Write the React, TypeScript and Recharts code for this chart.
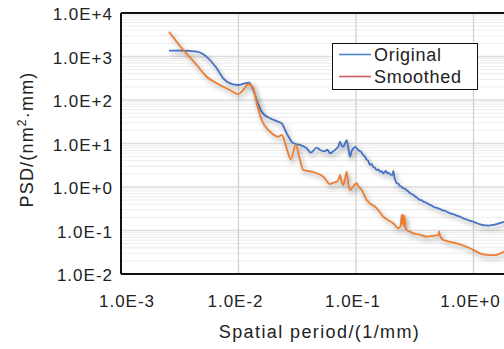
import React from "react";
import { LineChart, Line, XAxis, YAxis, ReferenceLine, Legend, Label } from "recharts";

// ---- data ----
const originalX = [
  0.00256, 0.00339, 0.00441, 0.00502, 0.00572, 0.00652, 0.00742, 0.00847, 0.00996, 0.01136,
  0.01229, 0.01337, 0.01429, 0.01575, 0.01854, 0.02182, 0.02332, 0.02571, 0.02927, 0.03338,
  0.03806, 0.04116, 0.04629, 0.04939, 0.054, 0.057, 0.06007, 0.064, 0.0685, 0.071,
  0.07309, 0.0755, 0.07796, 0.0805, 0.08334, 0.086, 0.08892, 0.0915, 0.09484, 0.099,
  0.1046, 0.11, 0.1153, 0.119, 0.123, 0.127, 0.1315, 0.136, 0.14, 0.145,
  0.15, 0.155, 0.16, 0.165, 0.1708, 0.175, 0.18, 0.185, 0.19, 0.196,
  0.2013, 0.205, 0.208, 0.212, 0.215, 0.222, 0.228, 0.235, 0.243, 0.2527,
  0.26, 0.27, 0.28, 0.2881, 0.3, 0.315, 0.33, 0.3505, 0.36, 0.375,
  0.39, 0.4, 0.425, 0.44, 0.455, 0.49, 0.5, 0.52, 0.555, 0.57,
  0.5916, 0.63, 0.67, 0.69, 0.72, 0.7674, 0.82, 0.87, 0.93, 0.9954,
  1.05, 1.1, 1.16, 1.211, 1.28, 1.35, 1.41, 1.474, 1.56, 1.65, 1.73, 1.818, 2.2,
];
const originalY = [
  1359, 1359, 1289, 1124, 831, 535, 315, 242, 221, 242,
  250, 170, 100, 53.8, 37.9, 31.7, 29.1, 17.1, 10.1, 9.24,
  7.76, 6.15, 8.0, 7.09, 6.6, 7.2, 5.95, 6.6, 7.76, 8.6,
  11.0, 9.0, 8.44, 10.0, 12.0, 8.0, 4.97, 6.5, 7.76, 8.3,
  7.09, 6.5, 5.44, 5.0, 4.3, 4.0, 3.21, 3.4, 2.9, 2.75,
  2.46, 2.55, 2.25, 2.3, 2.07, 2.2, 2.35, 2.05, 2.1, 1.95,
  1.89, 1.95, 2.35, 1.7, 1.5, 1.22, 1.2, 1.08, 1.02, 0.933,
  0.92, 0.84, 0.78, 0.716, 0.69, 0.62, 0.57, 0.502, 0.5, 0.46,
  0.445, 0.43, 0.39, 0.375, 0.352, 0.33, 0.325, 0.31, 0.285, 0.285,
  0.27, 0.25, 0.238, 0.232, 0.22, 0.2075, 0.19, 0.18, 0.168, 0.159,
  0.15, 0.143, 0.137, 0.1337, 0.131, 0.13, 0.133, 0.1337, 0.14, 0.145, 0.152, 0.159, 0.18,
];

const smoothedX = [
  0.00256, 0.00339, 0.00441, 0.00536, 0.00652, 0.00847, 0.00996, 0.01099, 0.01212, 0.01337,
  0.01429, 0.01575, 0.01854, 0.02182, 0.02332, 0.02571, 0.02781, 0.03067, 0.03338, 0.0356,
  0.04331, 0.05268, 0.06007, 0.064, 0.0685, 0.071, 0.07309, 0.0755, 0.07796, 0.0805,
  0.08334, 0.086, 0.08892, 0.095, 0.1014, 0.106, 0.1118, 0.1233, 0.135, 0.15,
  0.16, 0.1708, 0.19, 0.2077, 0.2291, 0.24, 0.2449, 0.248, 0.251, 0.255,
  0.259, 0.263, 0.2701, 0.2875, 0.3075, 0.33, 0.35, 0.375, 0.3997, 0.425,
  0.45, 0.475, 0.5016, 0.51, 0.52, 0.5534, 0.59, 0.63, 0.67, 0.7194,
  0.77, 0.82, 0.875, 0.9333, 1.03, 1.135, 1.25, 1.381, 1.5, 1.6, 1.7, 1.818, 2.2,
];
const smoothedY = [
  3715, 1410, 638, 343, 242, 170, 137, 170, 233, 186,
  84, 34.7, 18.7, 14.3, 15.7, 7.76, 4.33, 9.24, 4.18, 2.46,
  2.21, 1.73, 1.17, 1.25, 1.32, 1.5, 1.89, 1.3, 1.11, 1.5,
  2.25, 1.2, 0.853, 1.05, 1.22, 1.0, 0.853, 0.502, 0.4, 0.324,
  0.26, 0.2075, 0.17, 0.1465, 0.1124, 0.13, 0.227, 0.14, 0.23, 0.13,
  0.22, 0.12, 0.1026, 0.094, 0.0863, 0.083, 0.08, 0.075, 0.072, 0.074,
  0.075, 0.077, 0.0788, 0.095, 0.075, 0.0605, 0.058, 0.055, 0.053, 0.0508,
  0.048, 0.045, 0.042, 0.039, 0.034, 0.0299, 0.028, 0.0273, 0.0272, 0.028, 0.03, 0.0326, 0.036,
];

const seriesNames = ["Original", "Smoothed"];
const lineColors = ["#4472C4", "#ED7D31"];
const legendColors = ["#4A86C8", "#D05F5F"];

const xTicks = [0.001, 0.01, 0.1, 1, 10];
const yTicks = [0.01, 0.1, 1, 10, 100, 1000, 10000];
const yMinorFactors = [2, 3, 4, 5, 6, 7, 8, 9];

const originalData = originalX.map((x, i) => ({ x, y: originalY[i] }));
const smoothedData = smoothedX.map((x, i) => ({ x, y: smoothedY[i] }));
const yMinor: number[] = [];
yTicks.slice(0, -1).forEach((d) => yMinorFactors.forEach((k) => yMinor.push(d * k)));

const FONT = "'Liberation Sans', Arial, sans-serif";
const fmt = (v: number) => v.toExponential(1).toUpperCase();

const XTick = (props: any) => {
  const { x, y, payload } = props;
  const dx = payload.value === 0.001 ? 6 : -3;
  return (
    <text x={x + dx} y={y + 33} textAnchor="middle" fontSize={17} letterSpacing={1} fill="#222" fontFamily={FONT}>
      {fmt(payload.value)}
    </text>
  );
};

const YTick = (props: any) => {
  const { x, y, payload } = props;
  return (
    <text x={x - 8} y={y + 7} textAnchor="end" fontSize={17} letterSpacing={1} fill="#222" fontFamily={FONT}>
      {fmt(payload.value)}
    </text>
  );
};

const YAxisTitle = (props: any) => {
  const vb = props.viewBox || { x: 0, y: 13, width: 121, height: 261 };
  const cy = vb.y + vb.height / 2 - 4;
  return (
    <text
      transform={`translate(33, ${cy}) rotate(-90)`}
      textAnchor="middle"
      fontSize={18}
      letterSpacing={1.2}
      fill="#222"
      fontFamily={FONT}
    >
      <tspan>PSD/(nm</tspan>
      <tspan fontSize={12} dy={-7}>2</tspan>
      <tspan dy={7}>·mm)</tspan>
    </text>
  );
};

const XAxisTitle = (props: any) => {
  const vb = props.viewBox || { x: 121, y: 274, width: 470, height: 75 };
  return (
    <text
      x={vb.x + 198.5}
      y={vb.y + 64}
      textAnchor="middle"
      fontSize={18}
      letterSpacing={1.4}
      fill="#222"
      fontFamily={FONT}
    >
      Spatial period/(1/mm)
    </text>
  );
};

const LegendBox = () => (
  <div
    style={{
      width: 146,
      height: 47,
      boxSizing: "border-box",
      border: "1.5px solid #111",
      background: "#fff",
      position: "relative",
      fontFamily: FONT,
      fontSize: 18,
      letterSpacing: 0.7,
      color: "#222",
    }}
  >
    {seriesNames.map((name, i) => (
      <div
        key={name}
        style={{ position: "absolute", left: 6, top: i * 22, height: 22, lineHeight: "22px", display: "flex", alignItems: "center", whiteSpace: "nowrap" }}
      >
        <svg width={32} height={22} style={{ display: "block" }}>
          <line x1={0} x2={32} y1={10.5} y2={10.5} stroke={legendColors[i]} strokeWidth={1.6} />
        </svg>
        <span style={{ marginLeft: 3 }}>{name}</span>
      </div>
    ))}
  </div>
);

export default function App() {
  return (
    <div style={{ position: "absolute", left: 0, top: 0, width: 504, height: 349, overflow: "hidden", background: "#fff" }}>
      <style>{`.psd-line { filter: drop-shadow(2px 3px 2.5px rgba(0,0,0,0.38)); }`}</style>
      <LineChart width={600} height={349} margin={{ top: 13, right: 9, bottom: 0, left: 0 }}>
        {yMinor.map((v) => (
          <ReferenceLine key={"m" + v} y={v} stroke="#ededed" strokeWidth={1} />
        ))}
        {yTicks.slice(1, -1).map((v) => (
          <ReferenceLine key={"M" + v} y={v} stroke="#dcdcdc" strokeWidth={1.5} />
        ))}
        {xTicks.slice(1).map((v) => (
          <ReferenceLine key={"v" + v} x={v} stroke="#cfcfcf" strokeWidth={1.2} />
        ))}
        <ReferenceLine y={10000} stroke="#111" strokeWidth={2} />
        <XAxis
          dataKey="x"
          type="number"
          scale="log"
          domain={[0.001, 10]}
          ticks={xTicks}
          allowDataOverflow
          height={75}
          tickLine={false}
          tickSize={0}
          tickMargin={0}
          tick={<XTick />}
          axisLine={{ stroke: "#111", strokeWidth: 2 }}
          interval={0}
        >
          <Label content={<XAxisTitle />} />
        </XAxis>
        <YAxis
          dataKey="y"
          type="number"
          scale="log"
          domain={[0.01, 10000]}
          ticks={yTicks}
          allowDataOverflow
          width={121}
          tickLine={false}
          tickSize={0}
          tickMargin={0}
          tick={<YTick />}
          axisLine={{ stroke: "#111", strokeWidth: 2 }}
          interval={0}
        >
          <Label content={<YAxisTitle />} />
        </YAxis>
        <Line
          className="psd-line"
          data={originalData}
          dataKey="y"
          name={seriesNames[0]}
          type="monotone"
          stroke={lineColors[0]}
          strokeWidth={1.8}
          dot={false}
          isAnimationActive={false}
        />
        <Line
          className="psd-line"
          data={smoothedData}
          dataKey="y"
          name={seriesNames[1]}
          type="monotone"
          stroke={lineColors[1]}
          strokeWidth={1.8}
          dot={false}
          isAnimationActive={false}
        />
        <Legend
          layout="vertical"
          align="center"
          verticalAlign="middle"
          content={<LegendBox />}
          wrapperStyle={{ left: 332, top: 43, width: 146, height: 47 }}
        />
      </LineChart>
    </div>
  );
}
